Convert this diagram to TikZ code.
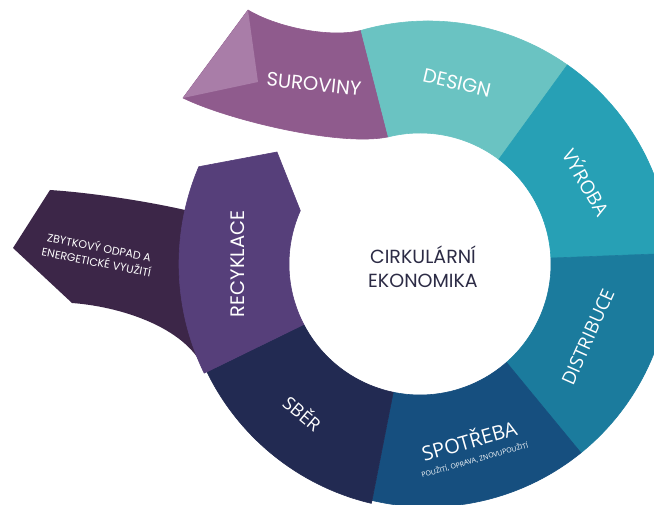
\documentclass[tikz,border=0pt]{standalone}
\usepackage{fontspec}
\setmainfont{Poppins}
\newfontfamily\opensans{Open Sans}
\usepackage{xcolor}
\usetikzlibrary{calc}

\definecolor{suroviny}{HTML}{8F5B8D}
\definecolor{fold}{HTML}{A97DA8}
\definecolor{design}{HTML}{6AC3C2}
\definecolor{vyroba}{HTML}{27A0B5}
\definecolor{distribuce}{HTML}{1B7B9D}
\definecolor{spotreba}{HTML}{164F7F}
\definecolor{sber}{HTML}{222A52}
\definecolor{recyklace}{HTML}{563F7A}
\definecolor{zbytek}{HTML}{3C2648}
\definecolor{nadpis}{HTML}{2C2B45}

\begin{document}
\begin{tikzpicture}[x=1pt, y=1pt, line join=round,
    lbl/.style={text=white, inner sep=0pt, font=\fontsize{19.5}{22}\selectfont},
    lblos/.style={text=white, inner sep=0pt, font=\opensans\fontsize{19}{21}\selectfont}]
        \useasboundingbox (0,0) rectangle (654,505);

        % ring centres
        \coordinate (Co) at (428,241);
        \coordinate (Ci) at (420,241);

        % residual waste branch (behind recycling)
        \fill[zbytek] (13,257) -- (50,315) .. controls (95,312) and (150,303) .. (185,295)
            -- (250,300) -- (240,150) -- (205,133) .. controls (190,175) and (125,198) .. (72,202) -- cycle;

        % raw materials tail with folded corner
        \fill[suroviny, draw=suroviny, line width=0.6pt] ($(Co)+(106:243)$) .. controls (331,467) and (278,477) .. (248,495)
            -- (183,407) .. controls (228,385) and (340,358) .. ($(Ci)+(104:131)$) -- cycle;
        \fill[fold] (248,495) -- (183,407) -- (258,423) -- cycle;

        % ring segments
        \foreach \oa/\ob/\ia/\ib/\R/\col in {106/55/53/104/243/design, 55/2.5/2.6/53/243/vyroba,
            2.5/-51/-48.7/2.6/243/distribuce, -51/-103.3/-101.8/-48.7/243/spotreba,
            -103.3/-154/-152.5/-101.8/246/sber}
            \fill[\col, draw=\col, line width=0.6pt] ($(Co)+(\oa:\R)$) arc[start angle=\oa, end angle=\ob, radius=\R]
                -- ($(Ci)+(\ia:131)$) arc[start angle=\ia, end angle=\ib, radius=131] -- cycle;

        % recycling arrow
        \fill[recyklace, draw=recyklace, line width=0.6pt] ($(Co)+(206:249)$) arc[start angle=206, end angle=157, radius=249]
            -- (277,353) -- ($(Ci)+(156:131)$) arc[start angle=156, end angle=207.5, radius=131] -- cycle;

        % labels
        \node[lbl, rotate=-6] (surlbl) at (314,421) {SUROVINY};
        \node[lbl, rotate=-13] (deslbl) at (457,422) {DESIGN};
        \node[lblos, rotate=-60] (vyrlbl) at (587,323) {VÝROBA};
        \node[lblos, font=\opensans\fontsize{18.5}{21}\selectfont, rotate=66] (dislbl) at (588,168) {DISTRIBUCE};
        \node[lblos, rotate=16, align=center, font=\opensans\fontsize{20}{15}\selectfont] (spolbl) at (471,58)
            {SPOTŘEBA\\{\fontsize{7}{8}\selectfont POUŽITÍ, OPRAVA, ZNOVUPOUŽITÍ}};
        \node[lblos, font=\opensans\fontsize{18}{21}\selectfont, rotate=-40] (sbelbl) at (303,92) {SBĚR};
        \node[lbl, rotate=90] (reclbl) at (238,241) {RECYKLACE};
        \node[text=white, inner sep=0pt, rotate=-11, align=center, font=\fontsize{11}{15}\selectfont] (zbylbl) at (98,251)
            {ZBYTKOVÝ ODPAD A\\ENERGETICKÉ VYUŽITÍ};
        \node[text=nadpis, align=center, font=\fontsize{19}{24}\selectfont] (stred) at (423,238)
            {CIRKULÁRNÍ\\EKONOMIKA};
    \end{tikzpicture}
\end{document}
